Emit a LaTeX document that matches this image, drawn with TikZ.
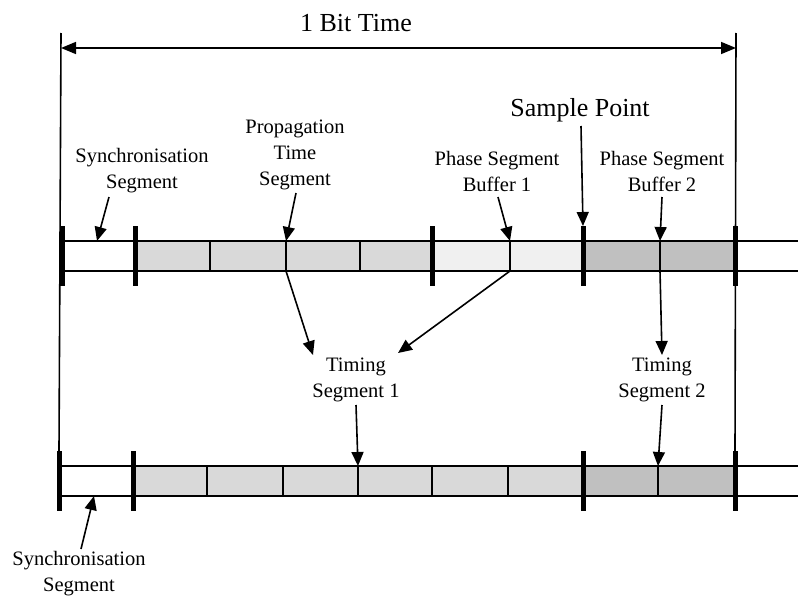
\documentclass[tikz,border=0pt]{standalone}
\usepackage{fontspec}
\setmainfont{Liberation Serif}
\usetikzlibrary{arrows.meta}
\definecolor{propfill}{HTML}{D9D9D9}
\definecolor{pbonefill}{HTML}{F0F0F0}
\definecolor{pbtwofill}{HTML}{C0C0C0}
\begin{document}
\begin{tikzpicture}[x=1pt,y=-1pt,
  line/.style={line width=1.6pt},
  tickmark/.style={line width=5pt},
  arr/.style={line width=1.6pt,-{Triangle[length=14pt,width=12pt]}},
  lbl/.style={font=\fontsize{20.5}{26}\selectfont, align=center, inner sep=0pt},
  biglbl/.style={font=\fontsize{26}{30}\selectfont, inner sep=0pt}]
\useasboundingbox (0,0) rectangle (798,597);

% ---- upper bit-time bar ----
\fill[propfill]  (135,241) rectangle (432,271);
\fill[pbonefill] (432,241) rectangle (583,271);
\fill[pbtwofill] (583,241) rectangle (735,271);
\draw[line] (62,241) -- (798,241);
\draw[line] (62,271) -- (798,271);
\foreach \x in {210,286,360,510,660}
  \draw[line] (\x,241) -- (\x,271);
\foreach \x in {62,135,432,583,735}
  \draw[tickmark] (\x,226) -- (\x,286);

% ---- lower bit-time bar ----
\fill[propfill]  (133,466) rectangle (583,496);
\fill[pbtwofill] (583,466) rectangle (735,496);
\draw[line] (59,466) -- (798,466);
\draw[line] (59,496) -- (798,496);
\foreach \x in {207,283,358,432,508,658}
  \draw[line] (\x,466) -- (\x,496);
\foreach \x in {59,133,583,735}
  \draw[tickmark] (\x,451) -- (\x,511);

% ---- bit-time extent ----
\coordinate (bitLtop) at (61,33);
\coordinate (bitLbot) at (59,451);
\coordinate (bitRtop) at (736,33);
\coordinate (bitRbot) at (735,451);
\draw[line] (bitLtop) -- (bitLbot);
\draw[line] (bitRtop) -- (bitRbot);
\coordinate (bitL) at (61,48);
\coordinate (bitR) at (736,48);
\draw[line,{Triangle[length=15pt,width=12pt]}-{Triangle[length=15pt,width=12pt]}] (bitL) -- (bitR);
\node[biglbl] (bitLbl) at (356,23) {1 Bit Time};

% ---- labels ----
\node[lbl] (syncTop) at (142,171) {Synchronisation\\Segment};
\node[lbl] (propLbl) at (295,155) {Propagation\\Time\\Segment};
\node[lbl] (pbOne)   at (497,171) {Phase Segment\\Buffer 1};
\node[biglbl] (sampleLbl) at (580,110) {Sample Point};
\node[lbl] (pbTwo)   at (662,171) {Phase Segment\\Buffer 2};
\node[lbl] (tsOne)   at (356,380) {Timing\\Segment 1};
\node[lbl] (tsTwo)   at (662,380) {Timing\\Segment 2};
\node[lbl] (syncBot) at (79,574) {Synchronisation\\Segment};

% ---- pointer ends ----
\coordinate (syncTopFrom) at (109,197);  \coordinate (syncTopTo) at (97,241);
\coordinate (propFrom)    at (296,193);  \coordinate (propTo)    at (286,241);
\coordinate (pbOneFrom)   at (498,197);  \coordinate (pbOneTo)   at (510,241);
\coordinate (sampleFrom)  at (581,126);  \coordinate (sampleTo)  at (583,226);
\coordinate (pbTwoFrom)   at (662,197);  \coordinate (pbTwoTo)   at (660,241);
\coordinate (propOut)     at (286,271);  \coordinate (tsOneInA)  at (313,355);
\coordinate (pbOneOut)    at (510,271);  \coordinate (tsOneInB)  at (398,353);
\coordinate (pbTwoOut)    at (660,271);  \coordinate (tsTwoIn)   at (662,355);
\coordinate (tsOneFrom)   at (356,405);  \coordinate (tsOneTo)   at (358,466);
\coordinate (tsTwoFrom)   at (662,405);  \coordinate (tsTwoTo)   at (658,466);
\coordinate (syncBotFrom) at (81,549);   \coordinate (syncBotTo) at (94,496);

% ---- pointers ----
\draw[arr] (syncTopFrom) -- (syncTopTo);
\draw[arr] (propFrom) -- (propTo);
\draw[arr] (pbOneFrom) -- (pbOneTo);
\draw[arr] (sampleFrom) -- (sampleTo);
\draw[arr] (pbTwoFrom) -- (pbTwoTo);
\draw[arr] (propOut) -- (tsOneInA);
\draw[arr] (pbOneOut) -- (tsOneInB);
\draw[arr] (pbTwoOut) -- (tsTwoIn);
\draw[arr] (tsOneFrom) -- (tsOneTo);
\draw[arr] (tsTwoFrom) -- (tsTwoTo);
\draw[arr] (syncBotFrom) -- (syncBotTo);
\end{tikzpicture}
\end{document}
